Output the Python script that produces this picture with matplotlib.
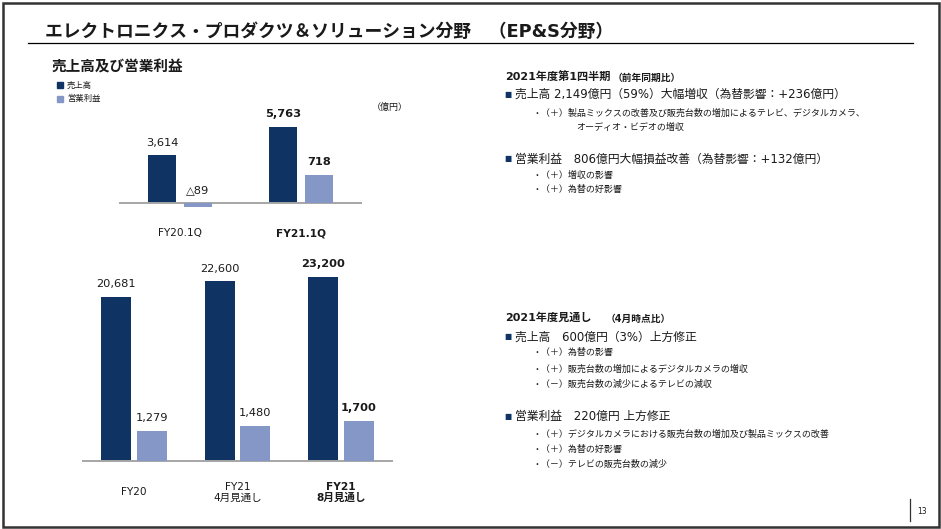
import matplotlib
matplotlib.use("Agg")
import matplotlib.pyplot as plt
from matplotlib.patches import Rectangle
from matplotlib.lines import Line2D

plt.rcParams['font.family'] = ['DejaVu Sans', 'Noto Sans CJK JP']

W, H = 941, 529

# 四半期 (億円)
q_labels = ["FY20.1Q", "FY21.1Q"]
q_sales = [3614, 5763]
q_profit = [-89, 718]

# 通期 (億円)
y_labels = ["FY20", "FY21\n4月見通し", "FY21\n8月見通し"]
y_sales = [20681, 22600, 23200]
y_profit = [1279, 1480, 1700]

NAVY = "#0f3464"
LIGHT = "#8597c7"
BASE = "#a6a6a6"
TXT = "#1a1a1a"

fig = plt.figure(figsize=(W / 100, H / 100), dpi=100)


def px_text(x, y, s, size, color=TXT, **kw):
    fig.text(x / W, 1 - y / H, s, fontsize=size, va='center', color=color, **kw)


def fmt(v):
    return f"{v:,}" if v >= 0 else f"△{-v:,}"


def bar_panel(box, base, per_px, c0, gap, bar_w, off, labels, sales, profit, cat_dy):
    left, top, right, bottom = box
    ax = fig.add_axes([left / W, 1 - bottom / H, (right - left) / W, (bottom - top) / H])
    ax2 = ax.twinx()
    for a, s in zip((ax, ax2), per_px):
        a.set_ylim(-(bottom - base) * s, (base - top) * s)
        a.set_xlim((left - c0) / gap, (right - c0) / gap)
        a.set_axis_off()
    n = len(labels)
    xs = list(range(n))
    w = bar_w / gap
    d = off / gap
    ax.bar([x - d for x in xs], sales, width=w, color=NAVY, zorder=2)
    ax2.bar([x + d for x in xs], profit, width=w, color=LIGHT, zorder=2)
    ax.axhline(0, color=BASE, lw=1.4, zorder=3)
    for i in xs:
        wt = 'bold' if i == n - 1 else 'normal'
        ax.annotate(fmt(sales[i]), xy=(i - d, max(sales[i], 0)), xytext=(0, 9.3),
                    textcoords='offset points', ha='center', va='center',
                    fontsize=8.2, fontweight=wt, color=TXT)
        ax2.annotate(fmt(profit[i]), xy=(i + d, max(profit[i], 0)), xytext=(0, 9.3),
                     textcoords='offset points', ha='center', va='center',
                     fontsize=8.2, fontweight=wt, color=TXT)
        ax.annotate(labels[i], xy=(i, 0), xytext=(0, -cat_dy),
                    textcoords='offset points', ha='center', va='center',
                    fontsize=7.6, fontweight=wt, color=TXT, linespacing=1.15)
    return ax


# 上段：四半期
bar_panel((119, 105, 362, 215), 203.3, (75.5, 25.6), 180, 121, 28, 18,
          q_labels, q_sales, q_profit, 21.4)
# 下段：通期
bar_panel((82, 250, 393, 462), 460.7, (126.1, 42.5), 134, 103.5, 30, 18,
          y_labels, y_sales, y_profit, 22.8)

# タイトル
px_text(45, 32, "エレクトロニクス・プロダクツ＆ソリューション分野　（EP&S分野）", 12.8,
        weight='bold')
fig.add_artist(Line2D([28 / W, 913 / W], [1 - 43 / H, 1 - 43 / H], color='black', lw=0.9))
px_text(52, 67, "売上高及び営業利益", 10.5, weight='bold')

# 凡例
for yy, lab, col in ((85, "売上高", NAVY), (99, "営業利益", LIGHT)):
    fig.add_artist(Rectangle((57 / W, 1 - (yy + 3) / H), 6 / W, 6 / H, color=col))
    px_text(67, yy, lab, 6)
px_text(372, 107, "（億円）", 6.5)


def bullet(y, s):
    px_text(504, y, "■", 5.5, color=NAVY)
    px_text(515, y, s, 8.5)


def sub(y, s, x=533):
    px_text(x, y, s, 6.5)


px_text(505, 77, "2021年度第1四半期", 8, weight='bold')
px_text(613, 78, "（前年同期比）", 7, weight='bold')
bullet(94, "売上高 2,149億円（59%）大幅増収（為替影響：+236億円）")
sub(113, "・（＋）製品ミックスの改善及び販売台数の増加によるテレビ、デジタルカメラ、")
sub(127, "オーディオ・ビデオの増収", x=576)
bullet(159, "営業利益　806億円大幅損益改善（為替影響：+132億円）")
sub(175, "・（＋）増収の影響")
sub(189, "・（＋）為替の好影響")

px_text(505, 318, "2021年度見通し", 8, weight='bold')
px_text(606, 319, "（4月時点比）", 7, weight='bold')
bullet(337, "売上高　600億円（3%）上方修正")
sub(352, "・（＋）為替の影響")
sub(369, "・（＋）販売台数の増加によるデジタルカメラの増収")
sub(384, "・（－）販売台数の減少によるテレビの減収")
bullet(416, "営業利益　220億円 上方修正")
sub(434, "・（＋）デジタルカメラにおける販売台数の増加及び製品ミックスの改善")
sub(449, "・（＋）為替の好影響")
sub(464, "・（－）テレビの販売台数の減少")

# ページ番号
fig.add_artist(Line2D([910 / W, 910 / W], [1 - 499 / H, 1 - 521 / H], color='#333333', lw=0.9))
px_text(917, 511, "13", 5.5)

# 外枠
fig.add_artist(Rectangle((2.5 / W, 2.5 / H), (W - 5) / W, (H - 5) / H, fill=False,
                         edgecolor='#333333', lw=1.8))

fig.savefig("out.png", dpi=100)
